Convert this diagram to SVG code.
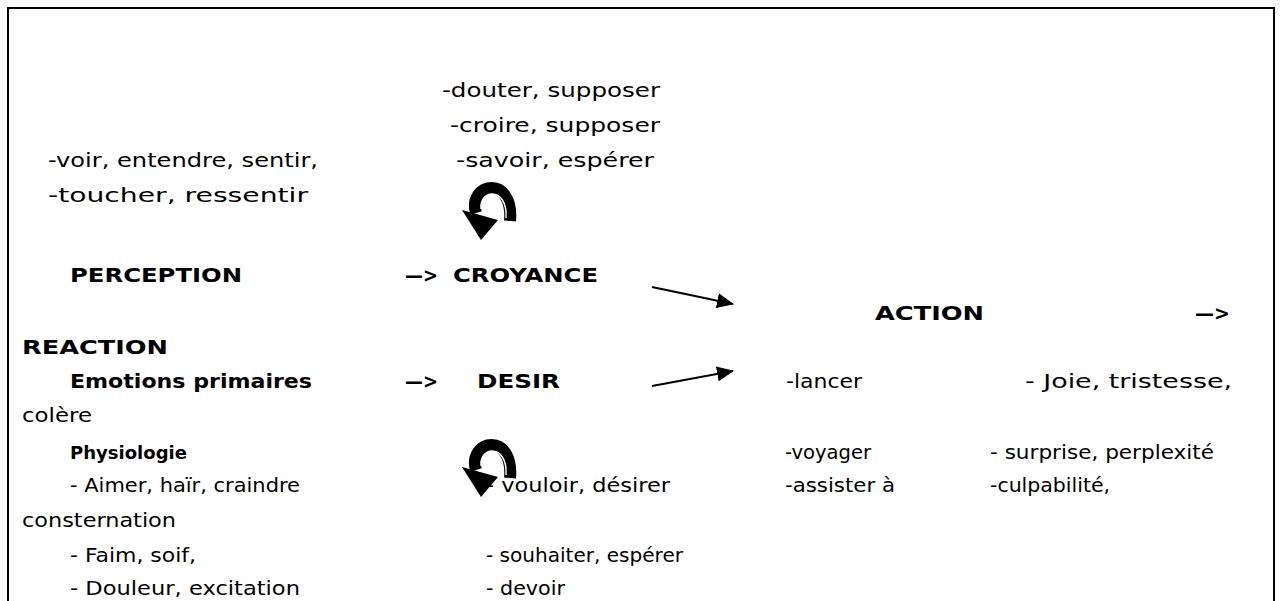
<svg xmlns="http://www.w3.org/2000/svg" width="1280" height="601" viewBox="0 0 1280 601">
<style>
text{font-family:"DejaVu Sans","Liberation Sans",sans-serif;font-size:20px;fill:#000}
.b{font-weight:bold}
.s{font-size:18px}
</style>
<defs>
<marker id="ah" markerUnits="userSpaceOnUse" markerWidth="17" markerHeight="15" viewBox="0 0 17 15" refX="16" refY="7.5" orient="auto">
<path d="M0,0 L17,7.5 L0,15 z" fill="#000"/>
</marker>
<g id="uturn">
<path d="M510 221 C512 199 502 188 492 188 C480 188 472 199 476 213" fill="none" stroke="#000" stroke-width="12"/>
<path d="M506 218 C507 202 500 194 492 194 C485 194 480 201 481 209" fill="none" stroke="#fff" stroke-width="1.4"/>
<polygon points="462,210 498,220 481,240" fill="#000"/>
</g>
</defs>
<rect x="8" y="8" width="1266" height="620" fill="#fff" stroke="#000" stroke-width="2"/>

<g id="croyance-list">
<text x="442" y="97" textLength="218" lengthAdjust="spacingAndGlyphs">-douter, supposer</text>
<text x="450" y="132" textLength="210" lengthAdjust="spacingAndGlyphs">-croire, supposer</text>
<text x="456" y="167" textLength="198" lengthAdjust="spacingAndGlyphs">-savoir, espérer</text>
</g>
<g id="perception-list">
<text x="48" y="167" textLength="270" lengthAdjust="spacingAndGlyphs">-voir, entendre, sentir,</text>
<text x="48" y="202" textLength="260" lengthAdjust="spacingAndGlyphs">-toucher, ressentir</text>
</g>
<g id="loop-croyance"><use href="#uturn"/></g>
<g id="perception">
<text class="b" x="70" y="282" textLength="172" lengthAdjust="spacingAndGlyphs">PERCEPTION</text>
</g>
<g id="croyance">
<text class="b" x="405" y="282" textLength="33" lengthAdjust="spacingAndGlyphs">—&gt;</text>
<text class="b" x="453" y="282" textLength="145" lengthAdjust="spacingAndGlyphs">CROYANCE</text>
</g>
<g id="action">
<text class="b" x="875" y="320" textLength="109" lengthAdjust="spacingAndGlyphs">ACTION</text>
<text class="b" x="1195" y="320" textLength="35" lengthAdjust="spacingAndGlyphs">—&gt;</text>
</g>
<g id="reaction">
<text class="b" x="22" y="354" textLength="146" lengthAdjust="spacingAndGlyphs">REACTION</text>
<text class="b" x="70" y="388" textLength="242" lengthAdjust="spacingAndGlyphs">Emotions primaires</text>
<text x="22" y="422" textLength="70" lengthAdjust="spacingAndGlyphs">colère</text>
<text class="b s" x="70" y="459" textLength="117" lengthAdjust="spacingAndGlyphs">Physiologie</text>
<text x="70" y="492" textLength="230" lengthAdjust="spacingAndGlyphs">- Aimer, haïr, craindre</text>
<text x="22" y="527" textLength="154" lengthAdjust="spacingAndGlyphs">consternation</text>
<text x="70" y="562" textLength="126" lengthAdjust="spacingAndGlyphs">- Faim, soif,</text>
<text x="70" y="595" textLength="230" lengthAdjust="spacingAndGlyphs">- Douleur, excitation</text>
</g>
<g id="desir">
<text class="b" x="405" y="388" textLength="33" lengthAdjust="spacingAndGlyphs">—&gt;</text>
<text class="b" x="477" y="388" textLength="83" lengthAdjust="spacingAndGlyphs">DESIR</text>
</g>
<g id="loop-desir"><use href="#uturn" transform="translate(0,257)"/></g>
<g id="desir-list">
<text x="486" y="492" textLength="184" lengthAdjust="spacingAndGlyphs">- vouloir, désirer</text>
<text x="486" y="562" textLength="197" lengthAdjust="spacingAndGlyphs">- souhaiter, espérer</text>
<text x="486" y="595" textLength="79" lengthAdjust="spacingAndGlyphs">- devoir</text>
</g>
<g id="action-list">
<text x="786" y="388" textLength="76" lengthAdjust="spacingAndGlyphs">-lancer</text>
<text x="785" y="459" textLength="86" lengthAdjust="spacingAndGlyphs">-voyager</text>
<text x="785" y="492" textLength="110" lengthAdjust="spacingAndGlyphs">-assister à</text>
</g>
<g id="reaction-list">
<text x="1025" y="388" textLength="207" lengthAdjust="spacingAndGlyphs">- Joie, tristesse,</text>
<text x="990" y="459" textLength="224" lengthAdjust="spacingAndGlyphs">- surprise, perplexité</text>
<text x="990" y="492" textLength="120" lengthAdjust="spacingAndGlyphs">-culpabilité,</text>
</g>
<g id="connectors" stroke="#000" stroke-width="2" fill="none">
<line x1="652" y1="287" x2="733" y2="304" marker-end="url(#ah)"/>
<line x1="652" y1="386" x2="733" y2="371" marker-end="url(#ah)"/>
</g>
</svg>
